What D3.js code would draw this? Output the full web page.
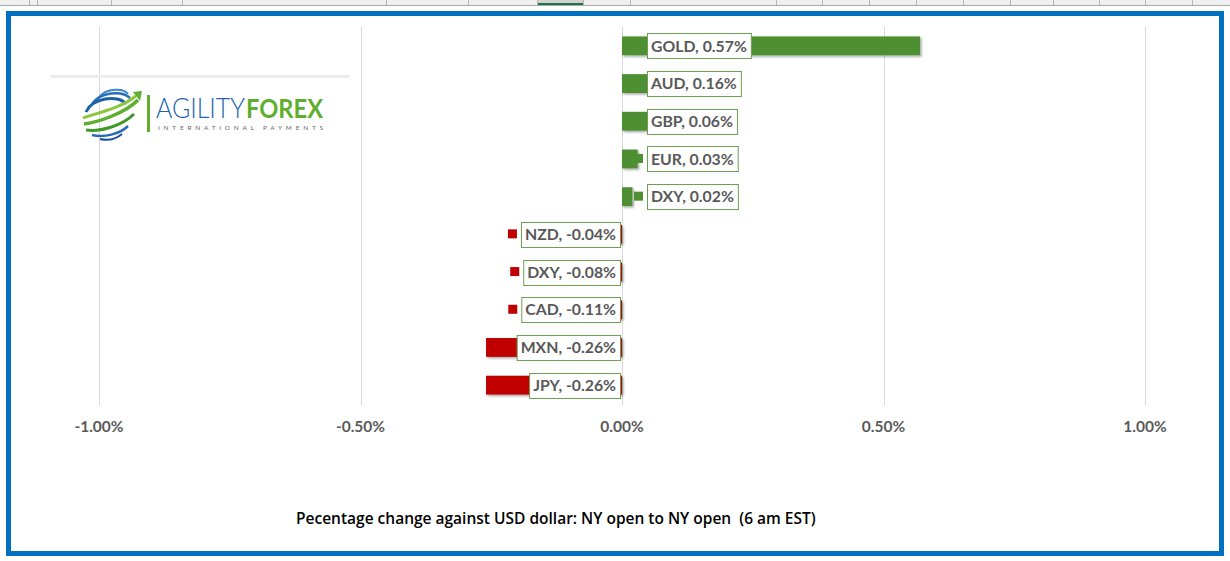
<!DOCTYPE html>
<html><head><meta charset="utf-8">
<script src="https://cdn.jsdelivr.net/npm/d3@7/dist/d3.min.js"></script>
<style>html,body{margin:0;padding:0;background:#fff;}svg{display:block;}</style>
</head><body><svg id="c" width="1230" height="561"></svg>
<script>
const categories = ["GOLD","AUD","GBP","EUR","DXY","NZD","DXY","CAD","MXN","JPY"];
const values = [0.57,0.16,0.06,0.03,0.02,-0.04,-0.08,-0.11,-0.26,-0.26];
const tickValues = [-1.0,-0.5,0,0.5,1.0];
const title = "Pecentage change against USD dollar: NY open to NY open  (6 am EST)";
const headerCols = [29,37,111,182,386,468,537,583,630,776,822,869,916,963,1010,1053,1099,1145,1192];

const svg = d3.select("#c");
const FONT = "Lato, 'Open Sans', sans-serif";
const pct = d => d3.format(".2f")(d).replace("\u2212","-") + "%";

// Excel-like header strip
svg.append("rect").attr("x",0).attr("y",0).attr("width",1230).attr("height",5).attr("fill","#efefef");
svg.append("rect").attr("x",537).attr("y",0).attr("width",46).attr("height",5).attr("fill","#d2d2d2");
svg.append("rect").attr("x",537).attr("y",3).attr("width",46).attr("height",2).attr("fill","#217346");
svg.selectAll("line.hc").data(headerCols).join("line").attr("class","hc")
  .attr("x1",d=>d+0.5).attr("x2",d=>d+0.5).attr("y1",0).attr("y2",5).attr("stroke","#b8b8b8");
svg.append("line").attr("x1",0).attr("x2",1230).attr("y1",5.5).attr("y2",5.5).attr("stroke","#a8a8a8");

// frame
svg.append("rect").attr("x",8.5).attr("y",13.5).attr("width",1213).attr("height",540)
  .attr("fill","#fff").attr("stroke","#0070c0").attr("stroke-width",5);

const x = d3.scaleLinear().domain([-1,1]).range([99,1145]);
const y = d3.scaleBand().domain(d3.range(values.length)).range([27,404]).paddingInner(0.5).paddingOuter(0.25);

// gridlines
svg.append("g").selectAll("line").data(tickValues).join("line")
  .attr("x1",d=>Math.round(x(d))+0.5).attr("x2",d=>Math.round(x(d))+0.5)
  .attr("y1",27).attr("y2",405).attr("stroke","#d9d9d9").attr("stroke-width",1);

// axis labels
svg.append("g").selectAll("text").data(tickValues).join("text")
  .attr("x",d=>x(d)).attr("y",432).attr("text-anchor","middle")
  .attr("font-family",FONT).attr("font-weight","bold").attr("font-size",15.5).attr("fill","#595959")
  .text(pct);

// shadow filter
const defs = svg.append("defs");
const f = defs.append("filter").attr("id","sh").attr("x","-10%").attr("y","-20%").attr("width","130%").attr("height","160%");
f.append("feDropShadow").attr("dx",1.5).attr("dy",1.5).attr("stdDeviation",1.2).attr("flood-color","#000").attr("flood-opacity",0.35);

const GREEN = "#4e8f33", RED = "#c00000";
// bars
svg.append("g").selectAll("rect").data(values).join("rect")
  .attr("x",d=>Math.min(x(0),x(d))).attr("width",d=>Math.abs(x(d)-x(0)))
  .attr("y",(d,i)=>y(i)).attr("height",y.bandwidth())
  .attr("fill",d=>d>=0?GREEN:RED).attr("filter","url(#sh)");

// labels
const lg = svg.append("g");
values.forEach((v,i)=>{
  const g = lg.append("g");
  const cy = y(i)+y.bandwidth()/2;
  const t = g.append("text").attr("font-family",FONT).attr("font-weight","bold").attr("font-size",15.8)
    .attr("fill","#595959").attr("y",cy).attr("dy","0.36em")
    .text(categories[i]+", "+pct(v));
  const w = t.node().getComputedTextLength();
  const bw = w+8, bh = 25;
  const bx = v>=0 ? 647 : 620-bw;
  t.attr("x",bx+4);
  g.insert("rect","text").attr("x",bx+0.5).attr("y",Math.round(cy-bh/2)+0.5).attr("width",bw).attr("height",bh)
    .attr("fill","#fff").attr("stroke","#6f9e55").attr("stroke-width",1);
  g.append("rect").attr("x",bx-13).attr("y",cy-5).attr("width",9).attr("height",9)
    .attr("fill",v>=0?GREEN:RED);
});

// logo
svg.append("rect").attr("x",50).attr("y",75).attr("width",300).attr("height",3).attr("fill","#ececec");
const logo = svg.append("g");
logo.append("path").attr("d","M100,96 C108,88 124,88 128,94").attr("fill","none").attr("stroke","#3a86c8").attr("stroke-width",2);
logo.append("path").attr("d","M92,104 C100,92 122,90 130,98").attr("fill","none").attr("stroke","#2a6cb8").attr("stroke-width",2.5);
logo.append("path").attr("d","M86,112 C92,98 118,94 126,104").attr("fill","none").attr("stroke","#1f5fa8").attr("stroke-width",3);
logo.append("path").attr("d","M83,118 C92,114 118,110 136,96").attr("fill","none").attr("stroke","#8cc63f").attr("stroke-width",3);
logo.append("path").attr("d","M84,124 C98,122 124,114 138,100").attr("fill","none").attr("stroke","#5fae2e").attr("stroke-width",3.5);
logo.append("path").attr("d","M133,92 L142,91 L140,101 Z").attr("fill","#5fae2e");
logo.append("path").attr("d","M86,130 C100,132 122,126 134,114").attr("fill","none").attr("stroke","#3f9a2a").attr("stroke-width",3);
logo.append("path").attr("d","M92,135 C104,138 120,134 128,126").attr("fill","none").attr("stroke","#2a6cb8").attr("stroke-width",2.5);
logo.append("path").attr("d","M100,139 C108,141 116,139 122,134").attr("fill","none").attr("stroke","#1f4f9a").attr("stroke-width",2);
logo.append("rect").attr("x",147).attr("y",95).attr("width",3).attr("height",37).attr("fill","#5fae2e");
logo.append("text").attr("x",156).attr("y",118).attr("font-family","Lato, sans-serif").attr("font-weight",300)
  .attr("font-size",27).attr("fill","#2563ad").attr("textLength",89).attr("lengthAdjust","spacingAndGlyphs").text("AGILITY");
logo.append("text").attr("x",246).attr("y",118).attr("font-family","Lato, sans-serif").attr("font-weight","bold")
  .attr("font-size",27).attr("fill","#5fae2e").attr("textLength",77).attr("lengthAdjust","spacingAndGlyphs").text("FOREX");
logo.append("text").attr("x",158).attr("y",130).attr("font-family","Lato, sans-serif")
  .attr("font-size",6.5).attr("fill","#666").attr("textLength",165).attr("lengthAdjust","spacing").text("INTERNATIONAL PAYMENTS");

// title
svg.append("text").attr("x",296).attr("y",524).attr("font-family","'Open Sans', sans-serif").attr("font-weight",600)
  .attr("font-size",15.5).attr("fill","#000").style("white-space","pre").text(title);
</script></body></html>
